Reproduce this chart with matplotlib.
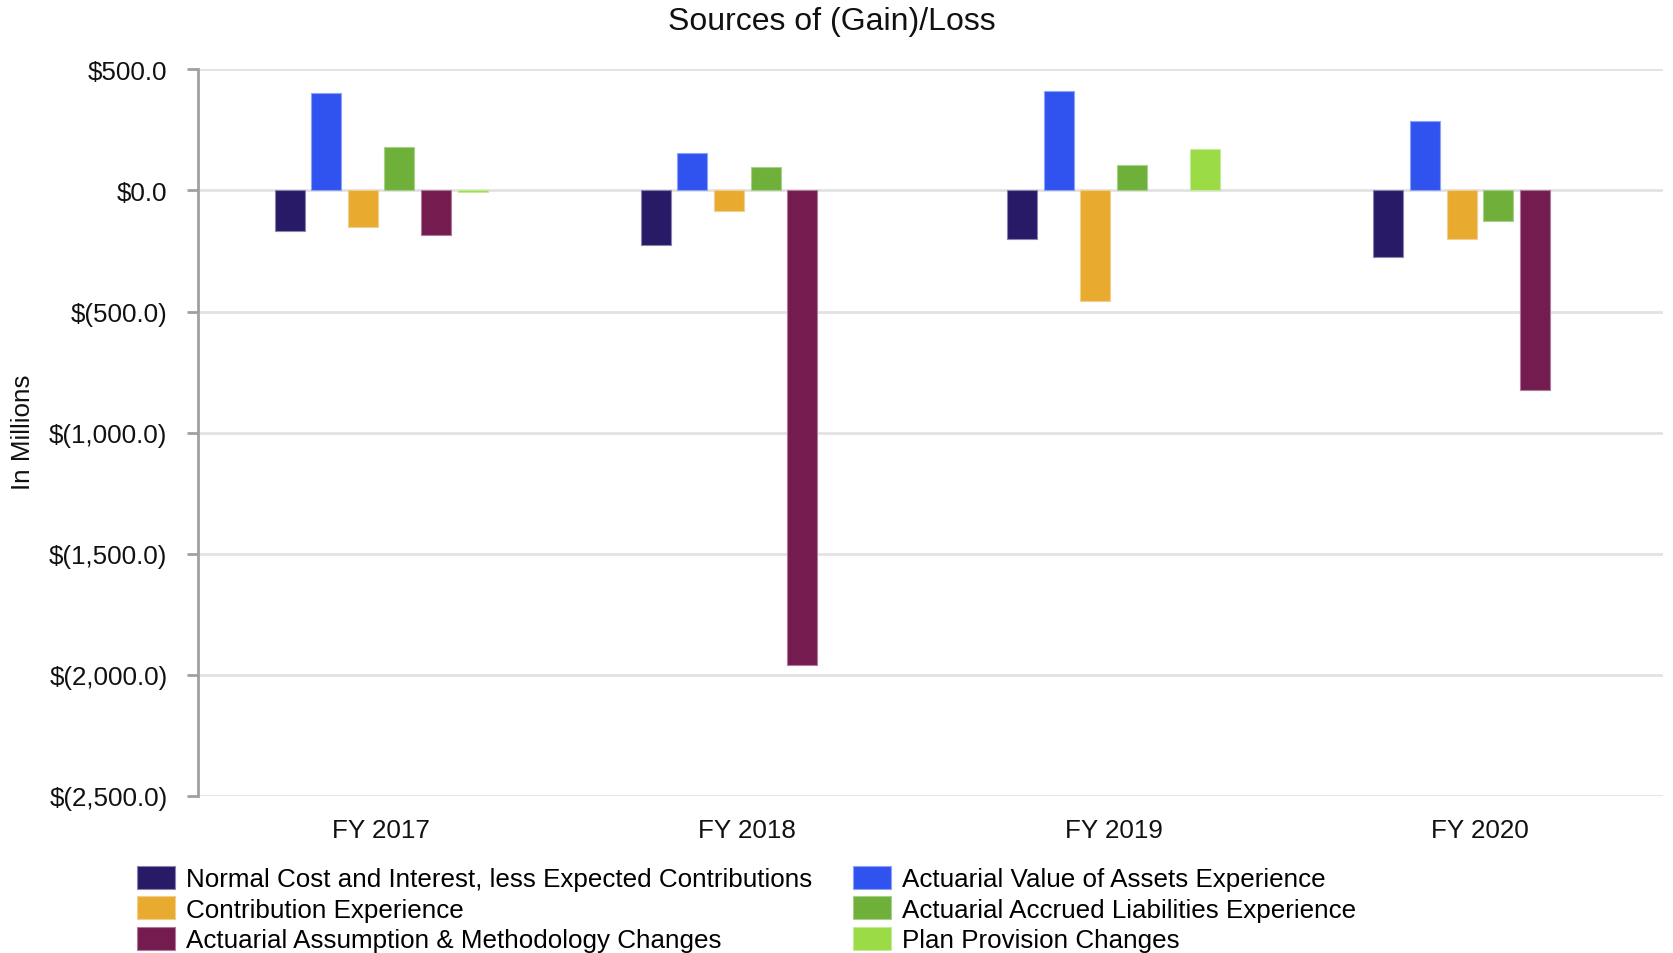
import matplotlib
matplotlib.use("Agg")
import matplotlib.pyplot as plt
from matplotlib.patches import Patch
from matplotlib.ticker import FuncFormatter
import numpy as np

plt.rcParams['font.family'] = ['Liberation Sans', 'DejaVu Sans']

years = ["FY 2017", "FY 2018", "FY 2019", "FY 2020"]

series_names = [
    "Normal Cost and Interest, less Expected Contributions",
    "Actuarial Value of Assets Experience",
    "Contribution Experience",
    "Actuarial Accrued Liabilities Experience",
    "Actuarial Assumption & Methodology Changes",
    "Plan Provision Changes",
]

# None marks a year with no entry for that source
normal_cost = [-168, -227, -202, -275]
asset_experience = [402, 154, 410, 286]
contribution_experience = [-153, -87, -458, -202]
liability_experience = [179, 96, 104, -127]
assumption_changes = [-186, -1960, None, -822]
plan_provision = [-8, None, 171, None]

series_values = [normal_cost, asset_experience, contribution_experience,
                 liability_experience, assumption_changes, plan_provision]

colors = ["#281a66", "#3053f0", "#e9aa30", "#6fb03a", "#741b4f", "#9bdb46"]
edges = ["#8a84b0", "#8fa3f6", "#f0cf8f", "#a8d08a", "#b07a9a", "#c6ea98"]

FS = 18.7

fig = plt.figure(figsize=(16.73, 9.54), dpi=100)
ax = fig.add_axes([198 / 1673, 1 - 797 / 954, (1663 - 198) / 1673, (797 - 70.3) / 954])

x = np.arange(len(years))
slot = 0.1
width = 0.082
for j, (vals, c, ec) in enumerate(zip(series_values, colors, edges)):
    heights = np.array([np.nan if v is None else v for v in vals], dtype=float)
    ax.bar(x + (j - 2.5) * slot, heights, width, color=c, edgecolor=ec,
           linewidth=0.8, zorder=3, label=series_names[j])

ax.set_xlim(-0.5, 3.5)
ax.set_ylim(-2500, 500)
ax.set_yticks(np.arange(-2500, 501, 500))


def money(v, pos):
    if v < 0:
        return "$({:,.1f})".format(-v)
    return "${:,.1f}".format(v)


ax.yaxis.set_major_formatter(FuncFormatter(money))
ax.set_xticks(x)
ax.set_xticklabels(years)
ax.tick_params(axis='x', length=0, labelsize=FS, pad=16, colors='#111111')
ax.tick_params(axis='y', length=8, width=2, color='#a0a0a0', labelsize=FS,
               pad=14, labelcolor='#111111')

ax.grid(axis='y', color='#e2e2e2', linewidth=2, zorder=0)
ax.set_axisbelow(True)
for side in ['top', 'right', 'bottom']:
    ax.spines[side].set_visible(False)
ax.spines['left'].set_color('#a0a0a0')
ax.spines['left'].set_linewidth(2)

fig.text(23.5 / 1673, 1 - 432 / 954, "In Millions", rotation=90, ha='center',
         va='center', fontsize=FS, color='#111111')

fig.text(832 / 1673, 1 - 22 / 954, "Sources of (Gain)/Loss", ha='center',
         va='center', fontsize=23, color='#111111')

legend_kw = dict(loc='upper left', frameon=False, fontsize=FS, handlelength=1.45,
                 handleheight=0.97, handletextpad=0.45, labelspacing=0.2,
                 borderaxespad=0, borderpad=0)
for cols, left in (([0, 2, 4], 137), ([1, 3, 5], 853)):
    handles = [Patch(facecolor=colors[i], edgecolor=edges[i], linewidth=0.8) for i in cols]
    labels = [series_names[i] for i in cols]
    fig.legend(handles, labels, bbox_to_anchor=(left / 1673, 1 - 867 / 954), **legend_kw)

fig.savefig("out.png", dpi=100)
